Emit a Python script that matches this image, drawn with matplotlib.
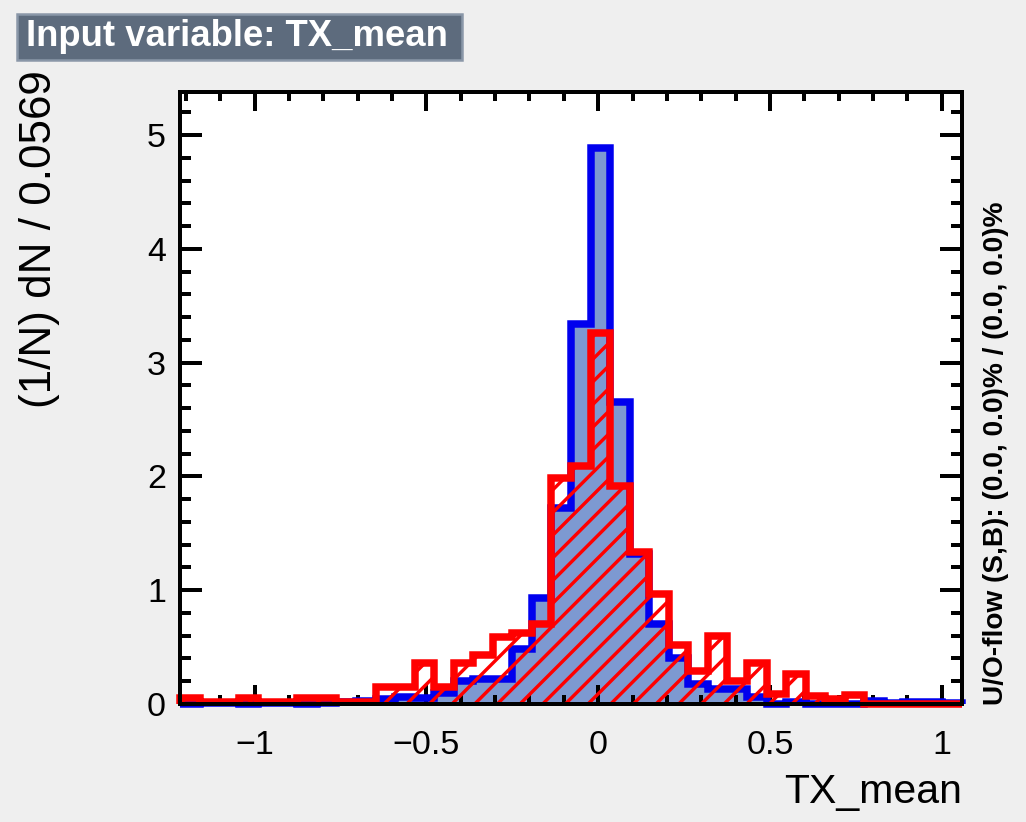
import numpy as np
import matplotlib
matplotlib.use("Agg")
import matplotlib.pyplot as plt
from matplotlib.patches import Rectangle
from matplotlib.ticker import MultipleLocator

# binning of the TMVA input-variable histogram
x_min = -1.217
bin_width = 0.0569
n_bins = 40

# signal (blue, filled) - normalised heights per bin
signal = [0.00, 0.01, 0.01, 0.00, 0.01, 0.01, 0.00, 0.01, 0.02, 0.03,
          0.04, 0.06, 0.05, 0.10, 0.20, 0.22, 0.22, 0.48, 0.93, 1.72,
          3.34, 4.89, 2.65, 1.32, 0.70, 0.40, 0.18, 0.13, 0.13, 0.06,
          0.00, 0.02, 0.00, 0.00, 0.00, 0.03, 0.01, 0.02, 0.02, 0.01]

# background (red, hatched)
background = [0.05, 0.02, 0.02, 0.05, 0.02, 0.02, 0.05, 0.05, 0.02, 0.02,
              0.15, 0.15, 0.36, 0.15, 0.36, 0.43, 0.59, 0.62, 0.70, 1.99,
              2.09, 3.26, 1.92, 1.34, 0.97, 0.52, 0.29, 0.60, 0.20, 0.36,
              0.09, 0.26, 0.07, 0.04, 0.08, 0.00, 0.00, 0.00, 0.00, 0.00]

xticks = [-1, -0.5, 0, 0.5, 1]
xtick_labels = ['\u22121', '\u22120.5', '0', '0.5', '1']
yticks = [0, 1, 2, 3, 4, 5]

DPI = 136
W, H = 1026, 822
PT = 72.0 / DPI   # pixels -> points

plt.rcParams['font.family'] = ['Liberation Sans', 'DejaVu Sans']
plt.rcParams['hatch.linewidth'] = 3.4 * PT

fig = plt.figure(figsize=(W / DPI, H / DPI), dpi=DPI, facecolor='#efefef')
ax = fig.add_axes([180 / W, 1 - 704 / H, (962 - 180) / W, (704 - 92) / H])
ax.set_facecolor('white')

edges = x_min + bin_width * np.arange(n_bins + 1)

ax.stairs(signal, edges, fill=True, color='#7d99d1', lw=0, zorder=1)
ax.stairs(signal, edges, color='#0000ee', lw=7.5 * PT, zorder=2, clip_on=False)
ax.stairs(background, edges, fill=True, facecolor='none', edgecolor='#ff0000',
          hatch='//', lw=0, zorder=3)
ax.stairs(background, edges, color='#ff0000', lw=7.5 * PT, zorder=4, clip_on=False)

ax.set_xlim(edges[0], edges[-1])
ax.set_ylim(0, 5.378)
ax.set_xticks(xticks)
ax.set_xticklabels(xtick_labels)
ax.set_yticks(yticks)
ax.xaxis.set_minor_locator(MultipleLocator(0.1))
ax.yaxis.set_minor_locator(MultipleLocator(0.2))

for s in ax.spines.values():
    s.set_linewidth(4 * PT)
    s.set_zorder(5)

ax.tick_params(which='both', direction='in', top=True, right=True,
               width=4 * PT, labelsize=34 * PT, colors='black')
ax.xaxis.set_tick_params(which='major', length=19 * PT, pad=26 * PT)
ax.xaxis.set_tick_params(which='minor', length=9 * PT)
ax.yaxis.set_tick_params(which='major', length=22 * PT, pad=14 * PT)
ax.yaxis.set_tick_params(which='minor', length=11 * PT)

# axis titles, ROOT style
fig.text(40 / W, 1 - 70 / H, '(1/N) dN / 0.0569', rotation=90,
         ha='center', va='top', fontsize=44 * PT)
fig.text(962 / W, 1 - 792 / H, 'TX_mean', ha='right', va='center',
         fontsize=41 * PT)
fig.text(996 / W, 1 - 705 / H, 'U/O-flow (S,B): (0.0, 0.0)% / (0.0, 0.0)%',
         rotation=90, ha='center', va='bottom', fontsize=28 * PT,
         fontweight='bold')

# title box
fig.add_artist(Rectangle((17 / W, 1 - 60 / H), (462 - 17) / W, 46 / H,
                         transform=fig.transFigure, facecolor='#5d6b7d',
                         edgecolor='#8a97a8', lw=2.5 * PT))
fig.text(26 / W, 1 - 37 / H, 'Input variable: TX_mean', ha='left',
         va='center', color='white', fontsize=36.5 * PT, fontweight='bold')

fig.savefig('out.png', dpi=DPI, facecolor=fig.get_facecolor())
